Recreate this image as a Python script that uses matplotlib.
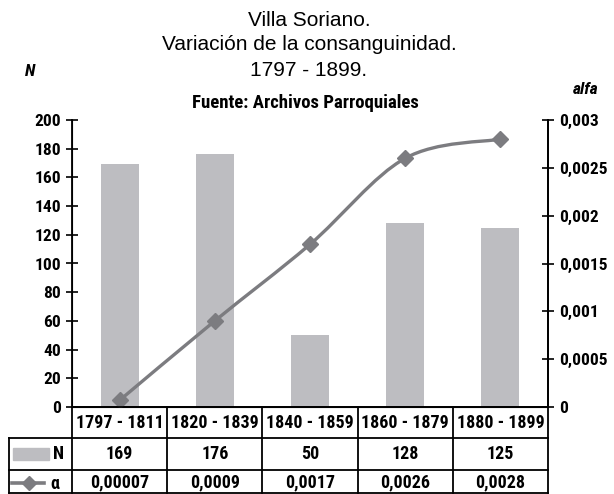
import numpy as np
import matplotlib.pyplot as plt
from matplotlib.path import Path
from matplotlib.patches import PathPatch, Rectangle
from matplotlib.lines import Line2D
import logging

# Data
periods = ['1797 - 1811', '1820 - 1839', '1840 - 1859', '1860 - 1879', '1880 - 1899']
n_values = [169, 176, 50, 128, 125]
alpha_values = [0.00007, 0.0009, 0.0017, 0.0026, 0.0028]
alpha_labels = ['0,00007', '0,0009', '0,0017', '0,0026', '0,0028']

left_ticks = [0, 20, 40, 60, 80, 100, 120, 140, 160, 180, 200]
right_ticks = [0, 0.0005, 0.001, 0.0015, 0.002, 0.0025, 0.003]
right_labels = ['0', '0,0005', '0,001', '0,0015', '0,002', '0,0025', '0,003']

title_lines = ['Villa Soriano.', 'Variación de la consanguinidad.', '1797 - 1899.']
source = 'Fuente: Archivos Parroquiales'

bar_color = '#bdbdc1'
line_color = '#7c7c80'
narrow = ['Nimbus Sans Narrow', 'Roboto Condensed', 'PT Sans Narrow', 'Asap Condensed', 'DejaVu Sans']
regular = ['Liberation Sans', 'DejaVu Sans']
logging.getLogger('matplotlib.font_manager').setLevel(logging.ERROR)

W, H = 614, 494
fig = plt.figure(figsize=(W / 100, H / 100), dpi=100)

def px(x, y):
    # pixel coords (top-left origin) -> figure fraction
    return x / W, 1 - y / H

x0, x1, ytop, ybot = 72, 548, 120, 407
ax = fig.add_axes([x0 / W, 1 - ybot / H, (x1 - x0) / W, (ybot - ytop) / H])
x = np.arange(len(periods))
ax.bar(x, n_values, width=0.4, color=bar_color, zorder=1)
ax.set_xlim(-0.5, len(periods) - 0.5)
ax.set_ylim(0, 200)
ax.set_yticks(left_ticks)
ax.set_yticklabels([str(t) for t in left_ticks], family=narrow, fontweight='bold', fontsize=12.5)
ax.set_xticks([])
ax.tick_params(axis='y', direction='inout', length=8, width=1.2, pad=4)
ax.spines['top'].set_visible(False)
for s in ['left', 'right', 'bottom']:
    ax.spines[s].set_linewidth(1.3)

ax2 = ax.twinx()
ax2.set_ylim(0, 0.003)
ax2.set_yticks(right_ticks)
ax2.set_yticklabels(right_labels, family=narrow, fontweight='bold', fontsize=12.5)
ax2.tick_params(axis='y', direction='inout', length=8, width=1.2, pad=4)
ax2.spines['top'].set_visible(False)
ax2.spines['right'].set_linewidth(1.3)

# smoothed line (Catmull-Rom as bezier curves)
pts = np.column_stack([x, alpha_values]).astype(float)
verts = [pts[0]]
codes = [Path.MOVETO]
for i in range(len(pts) - 1):
    p0 = pts[i - 1] if i > 0 else pts[i]
    p1, p2 = pts[i], pts[i + 1]
    p3 = pts[i + 2] if i + 2 < len(pts) else pts[i + 1]
    verts += [p1 + (p2 - p0) / 6, p2 - (p3 - p1) / 6, p2]
    codes += [Path.CURVE4] * 3
ax2.add_patch(PathPatch(Path(verts, codes), facecolor='none', edgecolor=line_color,
                        lw=2.4, zorder=3, capstyle='round'))
ax2.plot(x, alpha_values, linestyle='none', marker='D', markersize=8.5,
         color=line_color, zorder=4)

# titles
for i, t in enumerate(title_lines):
    fig.text(*px(309, 20 + i * 25), t, family=regular, fontsize=15, ha='center', va='center')
fig.text(*px(305, 103), source, family=narrow, fontweight='bold', fontsize=13.5, ha='center', va='center')
fig.text(*px(30, 71), 'N', family=narrow, fontweight='bold', style='italic', fontsize=12.5, ha='center', va='center')
fig.text(*px(586, 89), 'alfa', family=narrow, fontweight='bold', style='italic', fontsize=12.5, ha='center', va='center')

# data table
rows_y = [407, 438, 470, 493]
lw = 1.3
def hline(xa, xb, y):
    fig.add_artist(Line2D([xa / W, xb / W], [1 - y / H, 1 - y / H], color='black', lw=lw))
def vline(xp, ya, yb):
    fig.add_artist(Line2D([xp / W, xp / W], [1 - ya / H, 1 - yb / H], color='black', lw=lw))

col_w = (x1 - x0) / len(periods)
hline(x0, x1, rows_y[0])
hline(9, x1, rows_y[1])
hline(9, x1, rows_y[2])
hline(9, x1, rows_y[3])
for k in range(len(periods) + 1):
    vline(x0 + k * col_w, rows_y[0], rows_y[3])
vline(9, rows_y[1], rows_y[3])

for k in range(len(periods)):
    cx = x0 + (k + 0.5) * col_w
    fig.text(*px(cx, (rows_y[0] + rows_y[1]) / 2), periods[k], family=narrow,
             fontweight='bold', fontsize=13, ha='center', va='center')
    fig.text(*px(cx, (rows_y[1] + rows_y[2]) / 2), str(n_values[k]), family=narrow,
             fontweight='bold', fontsize=13, ha='center', va='center')
    fig.text(*px(cx, (rows_y[2] + rows_y[3]) / 2 + 1), alpha_labels[k], family=narrow,
             fontweight='bold', fontsize=13, ha='center', va='center')

# legend keys in table
fig.add_artist(Rectangle(px(13, 460), 36 / W, 12 / H, color=bar_color, transform=fig.transFigure))
fig.text(*px(58, 454), 'N', family=narrow, fontweight='bold', fontsize=13, ha='center', va='center')
fig.add_artist(Line2D([12 / W, 44 / W], [1 - 483 / H] * 2, color=line_color, lw=2.6,
                      transform=fig.transFigure))
fig.add_artist(Line2D([29 / W], [1 - 483 / H], color=line_color, marker='D', markersize=7,
                      linestyle='none', transform=fig.transFigure))
fig.text(*px(55, 484), 'α', family=narrow, fontweight='bold', fontsize=13, ha='center', va='center')

fig.savefig('out.png', dpi=100)
